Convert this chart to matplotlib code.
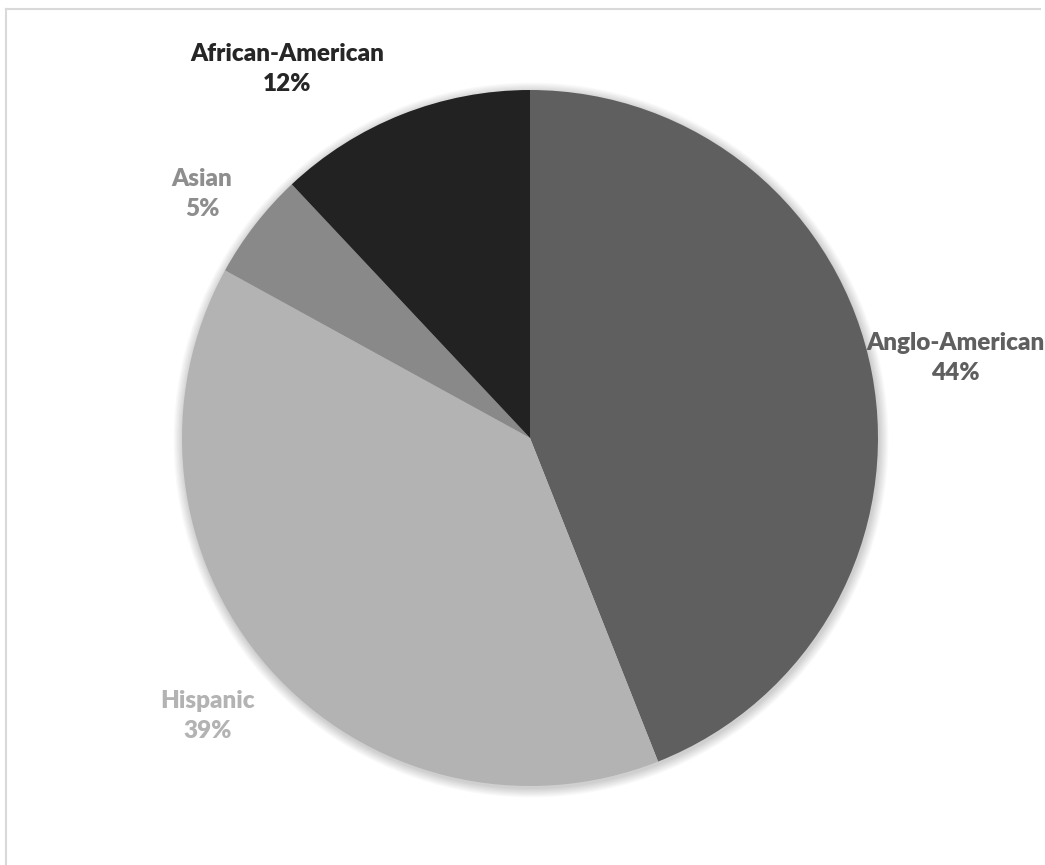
import matplotlib
matplotlib.use("Agg")
import matplotlib.pyplot as plt
from matplotlib.patches import Circle
from matplotlib.lines import Line2D

categories = ["Anglo-American", "Hispanic", "Asian", "African-American"]
values = [44, 39, 5, 12]
colors = ["#5f5f5f", "#b3b3b3", "#898989", "#222222"]
label_colors = ["#5f5f5f", "#b3b3b3", "#8e8e8e", "#262626"]

W, H = 1045, 865
fig = plt.figure(figsize=(W / 100, H / 100), dpi=100)
ax = fig.add_axes([0, 0, 1, 1])

cx, cy, r = 530, H - 438, 348

# soft shadow
for i in range(8):
    ax.add_patch(Circle((cx + 1, cy - 2), r + 1 + i * 1.2, color="black",
                        alpha=0.025, lw=0, zorder=0))

ax.pie(values, colors=colors, startangle=90, counterclock=False,
       center=(cx, cy), radius=r, frame=True,
       wedgeprops=dict(linewidth=0, edgecolor="none"))
ax.set_xlim(0, W)
ax.set_ylim(0, H)
ax.set_aspect("equal")
ax.axis("off")

label_pos = [(955, H - 358), (208, H - 716), (202, H - 194), (287, H - 69)]
for name, val, col, (x, y) in zip(categories, values, label_colors, label_pos):
    ax.text(x, y, f"{name}\n{val}%", ha="center", va="center", color=col,
            fontsize=17.5, fontweight="heavy", family=["Lato", "DejaVu Sans"],
            linespacing=1.45)

# chart-area border (top and left visible)
fig.add_artist(Line2D([5.5, 1040], [H - 8.5, H - 8.5], transform=None,
                      color="#d9d9d9", lw=1.5))
fig.add_artist(Line2D([5.5, 5.5], [H - 8.5, 0], transform=None,
                      color="#d9d9d9", lw=1.5))

fig.savefig("out.png", dpi=100, facecolor="white")
